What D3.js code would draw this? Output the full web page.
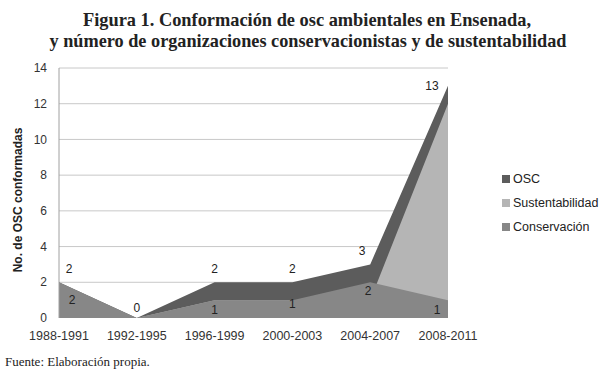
<!DOCTYPE html>
<html>
<head>
<meta charset="utf-8">
<script src="https://cdn.jsdelivr.net/npm/d3@7"></script>
<style>
  body { margin: 0; background: #fff; }
  svg { display: block; }
</style>
</head>
<body>
<div id="chart"></div>
<script>
const periods = ['1988-1991', '1992-1995', '1996-1999', '2000-2003', '2004-2007', '2008-2011'];
const osc = [2, 0, 2, 2, 3, 13];
const sustentabilidad = [0, 0, 1, 1, 1, 12];
const conservacion = [2, 0, 1, 1, 2, 1];
const yTicks = [0, 2, 4, 6, 8, 10, 12, 14];

const width = 615, height = 374;
const plot = { left: 59, right: 448, top: 68, bottom: 318 };

const svg = d3.select('#chart').append('svg')
  .attr('width', width)
  .attr('height', height);

// title (condensed to match the original layout)
const title = svg.append('text')
  .attr('text-anchor', 'middle')
  .style('font-family', '"Liberation Serif", "Times New Roman", serif')
  .style('font-weight', 'bold')
  .style('font-size', '19px')
  .attr('fill', '#222');
title.append('tspan').attr('x', 307).attr('y', 26)
  .attr('textLength', 448).attr('lengthAdjust', 'spacingAndGlyphs')
  .text('Figura 1. Conformación de osc ambientales en Ensenada,');
title.append('tspan').attr('x', 308).attr('y', 47)
  .attr('textLength', 517).attr('lengthAdjust', 'spacingAndGlyphs')
  .text('y número de organizaciones conservacionistas y de sustentabilidad');

const x = d3.scalePoint()
  .domain(periods)
  .range([plot.left, plot.right]);

const y = d3.scaleLinear()
  .domain([0, 14])
  .range([plot.bottom, plot.top]);

// gridlines
svg.append('g')
  .selectAll('line')
  .data(yTicks.filter(d => d > 0))
  .enter()
  .append('line')
    .attr('x1', plot.left).attr('x2', plot.right)
    .attr('y1', d => y(d)).attr('y2', d => y(d))
    .attr('stroke', '#c8c8c8')
    .attr('stroke-width', 1);

// y tick labels
svg.append('g')
  .selectAll('text')
  .data(yTicks)
  .enter()
  .append('text')
    .attr('x', 47)
    .attr('y', d => y(d))
    .attr('dy', '0.35em')
    .attr('text-anchor', 'end')
    .style('font-family', '"Liberation Sans", Arial, sans-serif')
    .style('font-size', '12px')
    .attr('fill', '#333')
    .text(d => d);

// y axis title
svg.append('text')
  .attr('transform', 'translate(22,200) rotate(-90)')
  .attr('text-anchor', 'middle')
  .style('font-family', '"Liberation Sans", Arial, sans-serif')
  .style('font-weight', 'bold')
  .style('font-size', '12px')
  .attr('fill', '#222')
  .text('No. de OSC conformadas');

// areas, drawn overlapping: OSC behind, then Sustentabilidad, then Conservación
const series = [
  { name: 'OSC', values: osc, color: '#5c5c5c' },
  { name: 'Sustentabilidad', values: sustentabilidad, color: '#b5b5b5' },
  { name: 'Conservación', values: conservacion, color: '#878787' },
];

const area = d3.area()
  .x((d, i) => x(periods[i]))
  .y0(y(0))
  .y1(d => y(d));

svg.append('g')
  .selectAll('path')
  .data(series)
  .enter()
  .append('path')
    .attr('fill', d => d.color)
    .attr('d', d => area(d.values));

// left axis line
svg.append('line')
  .attr('x1', plot.left).attr('x2', plot.left)
  .attr('y1', plot.top).attr('y2', plot.bottom)
  .attr('stroke', '#a0a0a0');

// x tick labels
svg.append('g')
  .selectAll('text')
  .data(periods)
  .enter()
  .append('text')
    .attr('x', d => x(d))
    .attr('y', 340)
    .attr('text-anchor', 'middle')
    .style('font-family', '"Liberation Sans", Arial, sans-serif')
    .style('font-size', '12.5px')
    .attr('fill', '#333')
    .text(d => d);

// data labels for OSC
const oscOffsets = [[10, -9], [0, -6], [0, -9], [0, -9], [-8, -9], [-16, 4]];
svg.append('g')
  .selectAll('text')
  .data(osc)
  .enter()
  .append('text')
    .attr('x', (d, i) => x(periods[i]) + oscOffsets[i][0])
    .attr('y', (d, i) => y(d) + oscOffsets[i][1])
    .attr('text-anchor', 'middle')
    .style('font-family', '"Liberation Sans", Arial, sans-serif')
    .style('font-size', '12px')
    .attr('fill', '#222')
    .text(d => d);

// data labels for Conservación
const consOffsets = [[13, 22], null, [0, 14], [0, 8], [-2, 13], [-11, 14]];
svg.append('g')
  .selectAll('text')
  .data(conservacion.map((v, i) => ({ v, i })).filter(d => consOffsets[d.i]))
  .enter()
  .append('text')
    .attr('x', d => x(periods[d.i]) + consOffsets[d.i][0])
    .attr('y', d => y(d.v) + consOffsets[d.i][1])
    .attr('text-anchor', 'middle')
    .style('font-family', '"Liberation Sans", Arial, sans-serif')
    .style('font-size', '12px')
    .attr('fill', '#222')
    .text(d => d.v);

// legend
const legend = svg.append('g')
  .selectAll('g')
  .data(series)
  .enter()
  .append('g')
    .attr('transform', (d, i) => `translate(502,${179 + i * 24})`);
legend.append('rect')
  .attr('x', 0).attr('y', -4)
  .attr('width', 8).attr('height', 8)
  .attr('fill', d => d.color);
legend.append('text')
  .attr('x', 11)
  .attr('dy', '0.35em')
  .style('font-family', '"Liberation Sans", Arial, sans-serif')
  .style('font-size', '12.5px')
  .attr('fill', '#222')
  .text(d => d.name);

// source
svg.append('text')
  .attr('x', 5)
  .attr('y', 366)
  .style('font-family', '"Liberation Serif", "Times New Roman", serif')
  .style('font-size', '13px')
  .attr('fill', '#222')
  .text('Fuente: Elaboración propia.');
</script>
</body>
</html>
